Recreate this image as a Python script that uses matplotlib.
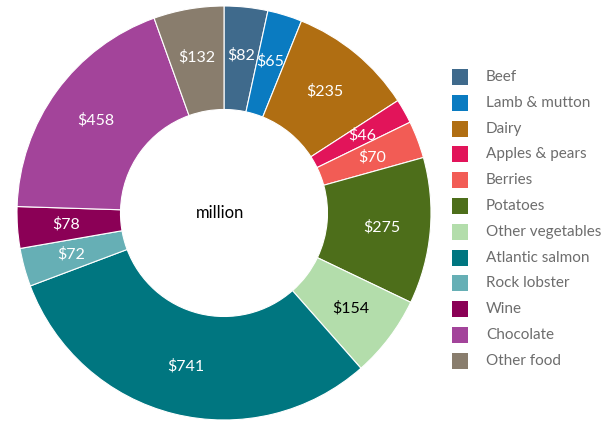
import matplotlib
matplotlib.use("Agg")
import matplotlib.pyplot as plt
from matplotlib.patches import Rectangle

plt.rcParams['font.family'] = ['Lato', 'DejaVu Sans']

# Export value by product ($ million)
categories = ["Beef", "Lamb & mutton", "Dairy", "Apples & pears", "Berries", "Potatoes",
              "Other vegetables", "Atlantic salmon", "Rock lobster", "Wine", "Chocolate", "Other food"]
values = [82, 65, 235, 46, 70, 275, 154, 741, 72, 78, 458, 132]
colors = ["#3f6a8c", "#0a7bc1", "#b06e12", "#e2145a", "#f25c55", "#4d6e1a",
          "#b3ddab", "#007680", "#66afb5", "#8b0056", "#a3449a", "#897d6d"]
label_colors = ["white"] * 6 + ["black"] + ["white"] * 5

W, H = 614, 424
fig = plt.figure(figsize=(W / 100, H / 100), dpi=100)

# donut centre (224, 213) px, outer radius 207 px
cx, cy, r = 224, 213, 207
ax = fig.add_axes([(cx - r) / W, (H - cy - r) / H, 2 * r / W, 2 * r / H])

wedges, texts = ax.pie(values, colors=colors, startangle=90, counterclock=False,
                       labels=["${}".format(v) for v in values], labeldistance=0.765,
                       wedgeprops=dict(width=0.5, edgecolor="white", linewidth=0.8),
                       textprops=dict(fontsize=11.5, ha="center", va="center"))
for t, c in zip(texts, label_colors):
    t.set_color(c)
    t.set_horizontalalignment("center")

ax.text(-0.02, 0, "million", ha="center", va="center", fontsize=12, color="black")
ax.set_xlim(-1, 1)
ax.set_ylim(-1, 1)
ax.set_aspect("equal")
ax.axis("off")

# legend drawn by hand
y0, step = 77, 25.8
for i, (name, col) in enumerate(zip(categories, colors)):
    y = y0 + i * step
    fig.patches.append(Rectangle((452 / W, (H - y - 8) / H), 16 / W, 16 / H,
                                 facecolor=col, edgecolor="none", transform=fig.transFigure))
    fig.text(486 / W, (H - y) / H, name, ha="left", va="center", fontsize=11, color="#6d6d6d")

fig.savefig("out.png", dpi=100)
